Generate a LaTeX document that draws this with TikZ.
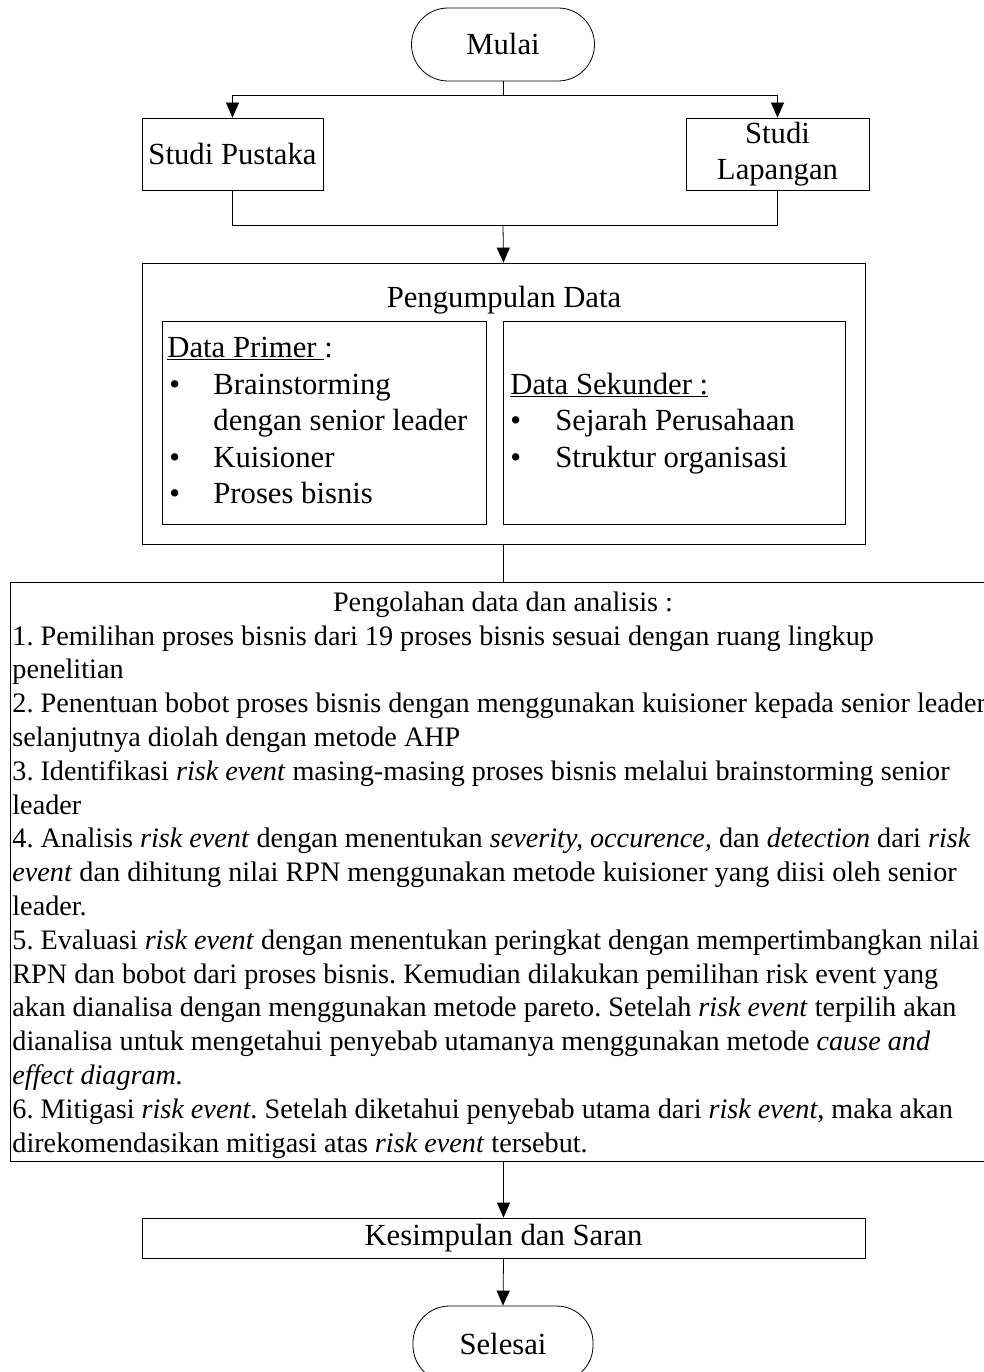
\documentclass[tikz,border=0pt]{standalone}
\usepackage{fontspec}
\setmainfont{Liberation Serif}
\usetikzlibrary{arrows.meta}
\frenchspacing
\begin{document}
\begin{tikzpicture}[x=1pt,y=-1pt,
  line width=0.8pt,
  big/.style={font=\fontsize{30.7}{36.5}\selectfont},
  sm/.style={inner sep=0pt,font=\fontsize{28.2}{33.8}\selectfont},
  bt/.style={inner sep=0pt,font=\fontsize{30.7}{36.5}\selectfont},
  boxx/.style={draw,rectangle,inner sep=0pt,big,align=center},
  term/.style={draw,rectangle,rounded corners=36.5pt,inner sep=0pt,big,minimum width=183pt,minimum height=73pt},
  arr/.style={-{Triangle[width=13pt,length=15pt]}}]
\clip (0,0) rectangle (984,1372);
\fill[white] (0,0) rectangle (984,1372);
% terminals and boxes
\node[term] (mulai) at (503,44.5) {Mulai};
\node[boxx,minimum width=181pt,minimum height=72pt] (sp) at (232.5,154) {Studi Pustaka};
\node[boxx,minimum width=183pt,minimum height=72pt] (sl) at (777.5,154) {Studi\\Lapangan};
\node[boxx,minimum width=723pt,minimum height=281pt] (pd) at (503.5,403.5) {};
\node[boxx,minimum width=324pt,minimum height=203pt] (dp) at (324,422.5) {};
\node[boxx,minimum width=342pt,minimum height=203pt] (dsk) at (674,422.5) {};
\node[boxx,minimum width=1000pt,minimum height=579pt] (ol) at (510,871.5) {};
\node[boxx,minimum width=723pt,minimum height=40pt] (ks) at (503.5,1238) {Kesimpulan dan Saran};
\node[term,minimum width=180pt,minimum height=76pt] (sel) at (503,1344) {Selesai};
% Pengumpulan data texts
\node[bt,anchor=base] (pdt) at (504,307) {Pengumpulan Data};
\node[bt,anchor=base west] (dph) at (167,357) {\underline{Data Primer\ }:};
\node[bt,anchor=base west] (b1) at (169,394) {\textbullet};
\node[bt,anchor=base west] (t1) at (213,394) {Brainstorming};
\node[bt,anchor=base west] (t1b) at (213,430) {dengan senior leader};
\node[bt,anchor=base west] (b2) at (169,467) {\textbullet};
\node[bt,anchor=base west] (t2) at (213,467) {Kuisioner};
\node[bt,anchor=base west] (b3) at (169,503) {\textbullet};
\node[bt,anchor=base west] (t3) at (213,503) {Proses bisnis};
\node[bt,anchor=base west] (dsh) at (510,394) {\underline{Data Sekunder :}};
\node[bt,anchor=base west] (b4) at (510,430) {\textbullet};
\node[bt,anchor=base west] (t4) at (555,430) {Sejarah Perusahaan};
\node[bt,anchor=base west] (b5) at (510,467) {\textbullet};
\node[bt,anchor=base west] (t5) at (555,467) {Struktur organisasi};
% Pengolahan texts
\node[sm,anchor=base] (olt) at (503,611) {Pengolahan data dan analisis :};
\node[sm,anchor=base west] (l1) at (12,645) {1. Pemilihan proses bisnis dari 19 proses bisnis sesuai dengan ruang lingkup};
\node[sm,anchor=base west] (l2) at (12,678.8) {penelitian};
\node[sm,anchor=base west] (l3) at (12,712.6) {2. Penentuan bobot proses bisnis dengan menggunakan kuisioner kepada senior leader};
\node[sm,anchor=base west] (l4) at (12,746.4) {selanjutnya diolah dengan metode AHP};
\node[sm,anchor=base west] (l5) at (12,780.2) {3. Identifikasi \textit{risk event} masing-masing proses bisnis melalui brainstorming senior};
\node[sm,anchor=base west] (l6) at (12,814) {leader};
\node[sm,anchor=base west] (l7) at (12,847.8) {4. Analisis \textit{risk event} dengan menentukan \textit{severity, occurence,} dan \textit{detection} dari \textit{risk}};
\node[sm,anchor=base west] (l8) at (12,881.6) {\textit{event} dan dihitung nilai RPN menggunakan metode kuisioner yang diisi oleh senior};
\node[sm,anchor=base west] (l9) at (12,915.4) {leader.};
\node[sm,anchor=base west] (l10) at (12,949.2) {5. Evaluasi \textit{risk event} dengan menentukan peringkat dengan mempertimbangkan nilai};
\node[sm,anchor=base west] (l11) at (12,983) {RPN dan bobot dari proses bisnis. Kemudian dilakukan pemilihan risk event yang};
\node[sm,anchor=base west] (l12) at (12,1016.8) {akan dianalisa dengan menggunakan metode pareto. Setelah \textit{risk event} terpilih akan};
\node[sm,anchor=base west] (l13) at (12,1050.6) {dianalisa untuk mengetahui penyebab utamanya menggunakan metode \textit{cause and}};
\node[sm,anchor=base west] (l14) at (12,1084.4) {\textit{effect diagram.}};
\node[sm,anchor=base west] (l15) at (12,1118.2) {6. Mitigasi \textit{risk event}. Setelah diketahui penyebab utama dari \textit{risk event}, maka akan};
\node[sm,anchor=base west] (l16) at (12,1152) {direkomendasikan mitigasi atas \textit{risk event} tersebut.};
% connectors
\coordinate (j1) at (503,95);
\coordinate (j2) at (503,225);
\draw (mulai.south) -- (j1);
\draw[arr] (j1) -| (sp.north);
\draw[arr] (j1) -| (sl.north);
\draw (sp.south) |- (j2);
\draw (sl.south) |- (j2);
\draw[arr] (j2) -- (pd.north);
\draw (pd.south) -- (pd.south |- ol.north);
\draw[arr] (ol.south -| ks.north) -- (ks.north);
\draw[arr] (ks.south) -- (sel.north);
\end{tikzpicture}
\end{document}
